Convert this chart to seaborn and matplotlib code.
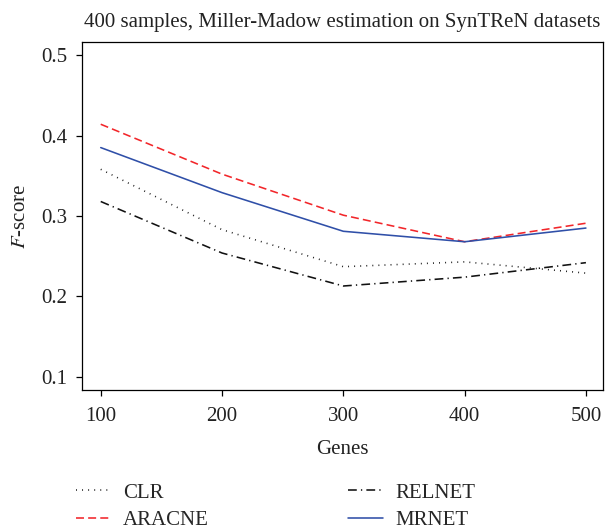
import numpy as np
import pandas as pd
import matplotlib
matplotlib.use("Agg")
import matplotlib.pyplot as plt
import seaborn as sns

genes = [100, 200, 300, 400, 500]
clr = [0.358, 0.283, 0.237, 0.243, 0.229]
aracne = [0.414, 0.352, 0.301, 0.268, 0.291]
relnet = [0.318, 0.254, 0.213, 0.224, 0.242]
mrnet = [0.385, 0.329, 0.281, 0.268, 0.285]
methods = ["CLR", "ARACNE", "RELNET", "MRNET"]
title = "400 samples, Miller-Madow estimation on SynTReN datasets"
y_ticks = [0.1, 0.2, 0.3, 0.4, 0.5]
x_ticks = [100, 200, 300, 400, 500]

series = {"CLR": clr, "ARACNE": aracne, "RELNET": relnet, "MRNET": mrnet}
df = pd.DataFrame([
    {"Genes": g, "F": v, "Method": m}
    for m in methods for g, v in zip(genes, series[m])
])

sns.set_style("ticks")
plt.rcParams["font.family"] = ["Liberation Serif", "DejaVu Serif"]
plt.rcParams["mathtext.fontset"] = "stix"

palette = {"CLR": "#1a1a1a", "ARACNE": "#f2262a", "RELNET": "#111111", "MRNET": "#2f4fa8"}
dashes = {"CLR": (0.6, 3.2), "ARACNE": (5, 2.6), "RELNET": (5.5, 2.6, 0.8, 2.6), "MRNET": ""}

fig = plt.figure(figsize=(6.06, 5.29), dpi=100)
ax = fig.add_axes([0.1348, 0.2628, 0.8607, 0.6572])

sns.lineplot(data=df, x="Genes", y="F", hue="Method", style="Method",
             hue_order=methods, style_order=methods,
             palette=palette, dashes=dashes, linewidth=1.15, ax=ax, legend=True)

ax.set_xlim(84.3, 514.3)
ax.set_ylim(0.0838, 0.5158)
ax.set_xticks(x_ticks)
ax.set_xticklabels([str(t) for t in x_ticks])
ax.set_yticks(y_ticks)
ax.set_yticklabels([f"{t:.1f}" for t in y_ticks])
ax.tick_params(axis="both", direction="out", length=4, width=0.9,
               labelsize=15, colors="black", labelcolor="#222222")
ax.tick_params(axis="x", pad=8)
ax.tick_params(axis="y", pad=6.5)
for s in ax.spines.values():
    s.set_visible(True)
    s.set_linewidth(0.9)
    s.set_color("black")

ax.set_xlabel("Genes", fontsize=15, color="#222222", labelpad=10.5)
ax.set_ylabel("$F$-score", fontsize=15, color="#222222", labelpad=8)
ax.set_title(title, fontsize=15, color="#222222", pad=11)

handles, labels = ax.get_legend_handles_labels()
ax.legend(handles, labels, ncol=2, frameon=False, loc="upper left",
          bbox_to_anchor=(-0.027, -0.244), fontsize=15, handlelength=1.68,
          handletextpad=0.58, columnspacing=6.7, labelspacing=0.38,
          borderaxespad=0)

fig.savefig("out.png", dpi=100)
